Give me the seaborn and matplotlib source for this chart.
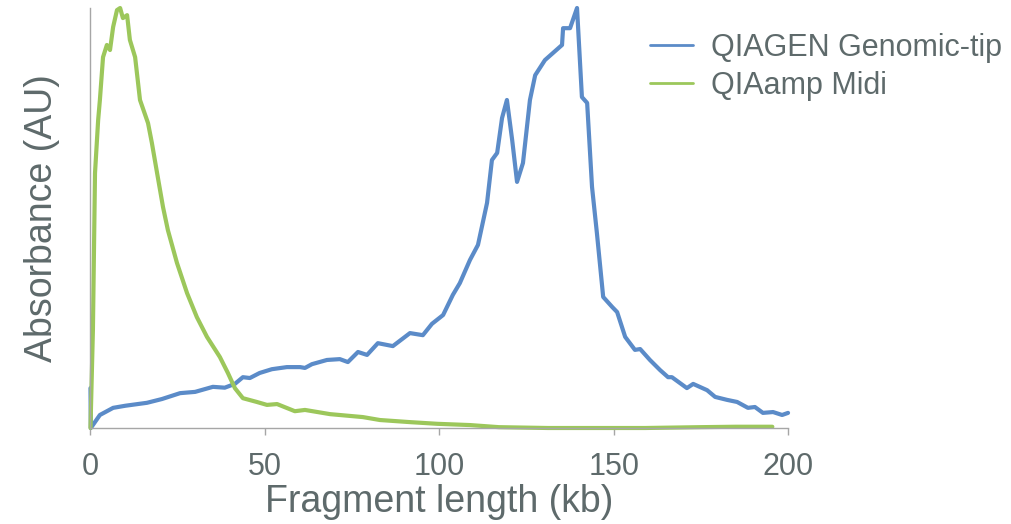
import seaborn as sns
import matplotlib.pyplot as plt
import pandas as pd

# fragment length (kb) and absorbance (arbitrary units, peak = 100)
tip_kb = [0, 0.1, 2.7, 6.5, 10.0, 16.2, 20.5, 25.7, 30.0, 35.1, 38.5, 41.4, 43.7, 45.7,
          48.5, 52.0, 56.3, 60.1, 61.5, 63.5, 67.8, 71.5, 73.8, 76.7, 79.3, 82.4,
          86.7, 91.6, 95.3, 97.9, 101.1, 103.9, 105.9, 108.8, 111.1, 113.7, 115.1,
          116.6, 118.0, 119.4, 120.9, 122.3, 124.0, 126.0, 127.5, 130.3, 135.2,
          135.5, 137.5, 139.5, 140.9, 142.4, 143.8, 145.2, 147.0, 149.6, 151.0,
          153.3, 156.1, 157.6, 160.4, 163.3, 165.6, 166.7, 171.0, 172.8, 176.8,
          179.1, 182.5, 185.4, 188.5, 190.5, 192.8, 195.7, 198.3, 200.0]
tip_abs = [9.5, 0.0, 3.1, 4.8, 5.3, 6.0, 6.9, 8.3, 8.6, 9.8, 9.6, 10.5, 12.1, 11.9,
           13.1, 14.0, 14.5, 14.5, 14.3, 15.2, 16.2, 16.4, 15.7, 18.1, 17.4, 20.2,
           19.5, 22.6, 22.1, 24.8, 26.9, 31.7, 34.5, 40.0, 43.6, 53.6, 63.8,
           65.5, 73.8, 78.1, 68.6, 58.6, 63.1, 78.1, 84.0, 87.6, 91.2,
           95.2, 95.2, 100.0, 78.8, 77.4, 57.4, 46.4, 31.2, 28.8, 27.6,
           21.7, 18.6, 18.8, 16.2, 13.8, 12.1, 12.1, 9.5, 10.5, 9.0,
           7.4, 6.7, 6.2, 4.8, 5.0, 3.6, 3.8, 3.1, 3.6]

midi_kb = [0, 0.7, 1.3, 2.2, 2.7, 3.6, 4.7, 5.6, 6.5, 7.6, 8.5, 9.3, 10.5, 11.3, 12.8,
           14.2, 16.5, 17.6, 19.1, 20.8, 22.2, 24.8, 27.7, 30.5, 33.4, 37.1, 39.4,
           41.4, 43.7, 47.7, 50.6, 53.5, 58.6, 61.5, 68.7, 78.1, 83.0, 91.6, 99.4,
           108.8, 117.1, 131.2, 145.0, 159.0, 174.8, 185.0, 195.5]
midi_abs = [0.0, 23.3, 60.7, 73.3, 78.1, 88.3, 91.2, 90.0, 95.5, 99.5, 100.0, 97.6,
            98.3, 92.4, 88.3, 78.1, 72.6, 67.9, 60.7, 52.6, 47.1, 39.3, 32.1, 26.4,
            21.7, 16.9, 13.1, 9.5, 7.1, 6.2, 5.5, 5.7, 4.0, 4.3, 3.3, 2.6, 1.9, 1.4,
            1.0, 0.7, 0.2, 0.0, 0.0, 0.0, 0.2, 0.3, 0.3]

x_ticks = [0, 50, 100, 150, 200]
series_names = ['QIAGEN Genomic-tip', 'QIAamp Midi']
colors = ['#5B8BC8', '#9CC75B']

df = pd.concat([
    pd.DataFrame({'kb': tip_kb, 'abs': tip_abs, 'kit': series_names[0]}),
    pd.DataFrame({'kb': midi_kb, 'abs': midi_abs, 'kit': series_names[1]}),
], ignore_index=True)

sns.set_style('white')
plt.rcParams['font.family'] = ['Liberation Sans', 'DejaVu Sans']
text_col = '#5E6A6B'

fig = plt.figure(figsize=(10.12, 5.24), dpi=100)
ax = fig.add_axes([0.0894, 0.1832, 0.6893, 0.8015])

sns.lineplot(data=df, x='kb', y='abs', hue='kit', palette=colors, estimator=None,
             sort=False, linewidth=3.0, ax=ax)
for ln in ax.get_lines():
    ln.set_solid_joinstyle('round')
    ln.set_clip_on(False)

ax.set_xlim(0, 200)
ax.set_ylim(0, 100)
ax.set_xticks(x_ticks)
ax.set_yticks([])
ax.tick_params(axis='x', bottom=True, length=5, width=1, color='#A6A6A6',
               labelsize=22, labelcolor=text_col, pad=12.5)
ax.set_xlabel('Fragment length (kb)', fontsize=27, color=text_col, labelpad=1)
ax.set_ylabel('Absorbance (AU)', fontsize=27, color=text_col, labelpad=22)
sns.despine(ax=ax)
for side in ['left', 'bottom']:
    ax.spines[side].set_color('#A6A6A6')
    ax.spines[side].set_linewidth(1)

leg = ax.legend(loc='upper left', bbox_to_anchor=(0.630, 0.960), bbox_transform=fig.transFigure,
                frameon=False, fontsize=22, handlelength=1.4, handletextpad=0.6,
                labelspacing=0.25, borderaxespad=0)
for t in leg.get_texts():
    t.set_color(text_col)
for h in leg.get_lines():
    h.set_linewidth(2)

fig.savefig('out.png', dpi=100)
